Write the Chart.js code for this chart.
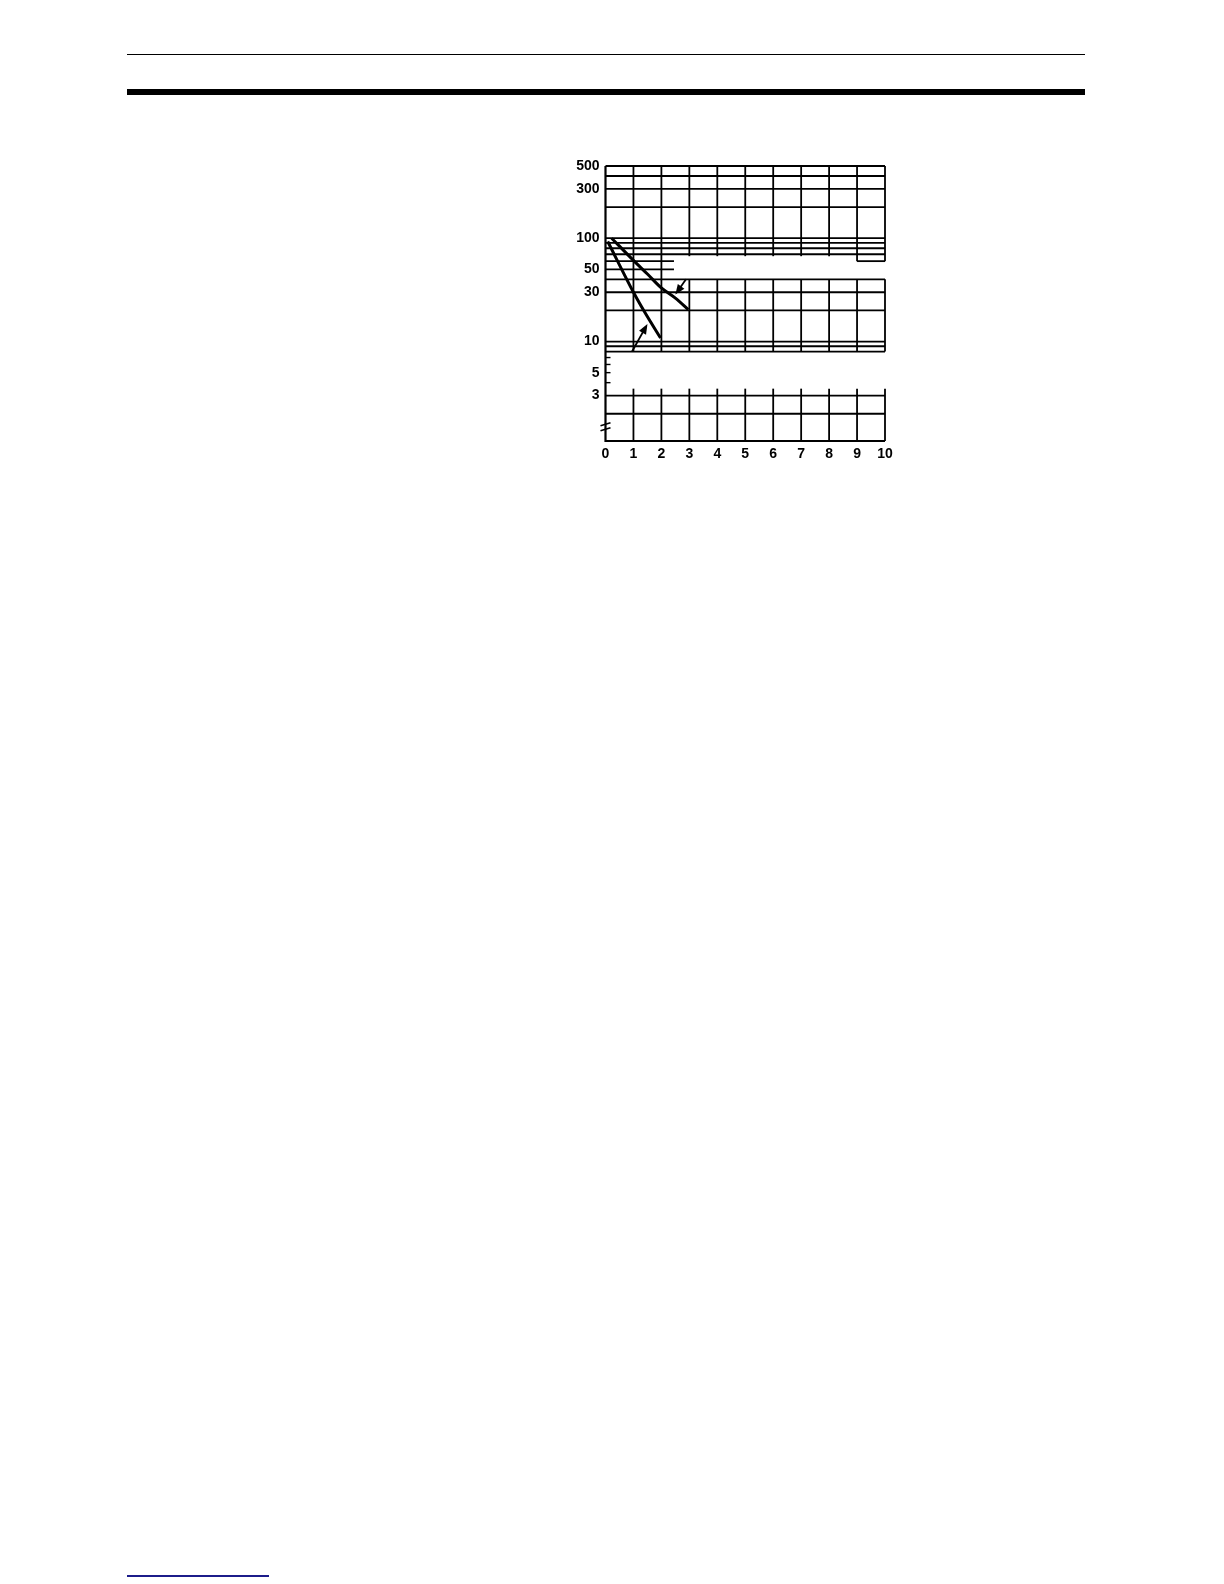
<!DOCTYPE html>
<html>
<head>
<meta charset="utf-8">
<script src="https://cdn.jsdelivr.net/npm/chart.js@4/dist/chart.umd.min.js"></script>
<style>
  body { margin: 0; width: 1224px; height: 1584px; background: #fff; position: relative; }
  .rule { position: absolute; left: 127px; width: 958px; background: #000; }
  #chartBox { position: absolute; left: 540px; top: 150px; width: 360px; height: 320px; }
  #footLine { position: absolute; left: 127px; top: 1575px; width: 142px; height: 2px; background: #1c1c8a; }
</style>
</head>
<body>
<div class="rule" style="top:54px;height:1px;"></div>
<div class="rule" style="top:89px;height:6px;"></div>
<div id="chartBox"><canvas id="lifeChart" width="360" height="320"></canvas></div>
<div id="footLine"></div>

<script>
// values (x, y on log axis)
var curveA_x = [0.22, 1, 1.5, 2, 2.5, 2.96];
var curveA_y = [100, 61, 45, 33, 26.3, 20.4];
var curveB_x = [0.08, 1, 1.4, 1.97];
var curveB_y = [93, 30, 19.3, 10.8];

var xTicks = [0, 1, 2, 3, 4, 5, 6, 7, 8, 9, 10];
var yTicks = [500, 300, 100, 50, 30, 10, 5, 3];
var yMinor = [7, 6, 5, 4];

// grid as drawn in the original (broken axis), in data units
// horizontal: [y, xFrom, xTo]
var hGrid = [
    [500, 0, 10], [400, 0, 10], [300, 0, 10], [200, 0, 10],
    [100, 0, 10], [90, 0, 10], [80, 0, 10], [70, 0, 10],
    [60, 0, 2.45], [50, 0, 2.45], [60, 9, 10],
    [40, 0, 10], [30, 0, 10], [20, 0, 10], [10, 0, 10], [9, 0, 10], [8, 0, 10],
    [3, 0, 10], [2, 0, 10]
];
// vertical: [x, yFrom, yTo]
var vGrid = [
    [1, 8, 500], [2, 8, 500],
    [3, 67, 500], [4, 67, 500], [5, 67, 500], [6, 67, 500], [7, 67, 500], [8, 67, 500],
    [9, 60, 500], [10, 60, 500],
    [3, 8, 40], [4, 8, 40], [5, 8, 40], [6, 8, 40], [7, 8, 40], [8, 8, 40], [9, 8, 40], [10, 8, 40],
    [1, 1.09, 3.5], [2, 1.09, 3.5], [3, 1.09, 3.5], [4, 1.09, 3.5], [5, 1.09, 3.5],
    [6, 1.09, 3.5], [7, 1.09, 3.5], [8, 1.09, 3.5], [9, 1.09, 3.5], [10, 1.09, 3.5]
];
// arrows pointing at the curves: [tailX, tailY, headX, headY]
var arrows = [
    [2.88, 40, 2.5, 28.5],
    [0.95, 8.0, 1.5, 14.8]
];

var yMin = 1.09, yMax = 500;

function pts(xs, ys) {
    return xs.map(function(x, i) { return { x: x, y: ys[i] }; });
}

var gridPlugin = {
    id: 'brokenGrid',
    beforeDatasetsDraw: function(chart) {
        var ctx = chart.ctx, xs = chart.scales.x, ys = chart.scales.y;
        ctx.save();
        ctx.strokeStyle = '#000';
        ctx.lineWidth = 1.8;
        ctx.lineCap = 'butt';
        hGrid.forEach(function(h) {
            var y = ys.getPixelForValue(h[0]);
            ctx.beginPath();
            ctx.moveTo(xs.getPixelForValue(h[1]), y);
            ctx.lineTo(xs.getPixelForValue(h[2]), y);
            ctx.stroke();
        });
        vGrid.forEach(function(v) {
            var x = xs.getPixelForValue(v[0]);
            ctx.beginPath();
            ctx.moveTo(x, ys.getPixelForValue(v[1]));
            ctx.lineTo(x, ys.getPixelForValue(v[2]));
            ctx.stroke();
        });
        // left and bottom axes
        ctx.lineWidth = 2.2;
        var x0 = xs.getPixelForValue(0), yb = ys.getPixelForValue(yMin);
        ctx.beginPath();
        ctx.moveTo(x0, ys.getPixelForValue(yMax));
        ctx.lineTo(x0, yb);
        ctx.lineTo(xs.getPixelForValue(10), yb);
        ctx.stroke();
        // minor ticks in the gap
        ctx.lineWidth = 1.4;
        yMinor.forEach(function(m) {
            var y = ys.getPixelForValue(m);
            ctx.beginPath();
            ctx.moveTo(x0, y);
            ctx.lineTo(x0 + 5, y);
            ctx.stroke();
        });
        // axis break mark
        var yb2 = ys.getPixelForValue(1.5);
        ctx.lineWidth = 1.6;
        [-2.5, 2.5].forEach(function(o) {
            ctx.beginPath();
            ctx.moveTo(x0 - 5, yb2 + o + 1.5);
            ctx.lineTo(x0 + 5, yb2 + o - 1.5);
            ctx.stroke();
        });
        ctx.restore();
    },
    afterDatasetsDraw: function(chart) {
        var ctx = chart.ctx, xs = chart.scales.x, ys = chart.scales.y;
        ctx.save();
        ctx.strokeStyle = '#000';
        ctx.fillStyle = '#000';
        ctx.lineWidth = 1.8;
        arrows.forEach(function(a) {
            var tx = xs.getPixelForValue(a[0]), ty = ys.getPixelForValue(a[1]);
            var hx = xs.getPixelForValue(a[2]), hy = ys.getPixelForValue(a[3]);
            var ang = Math.atan2(hy - ty, hx - tx);
            var c = Math.cos(ang), s = Math.sin(ang);
            ctx.beginPath();
            ctx.moveTo(tx, ty);
            ctx.lineTo(hx - 7 * c, hy - 7 * s);
            ctx.stroke();
            ctx.beginPath();
            ctx.moveTo(hx, hy);
            ctx.lineTo(hx - 10 * c + 4 * s, hy - 10 * s - 4 * c);
            ctx.lineTo(hx - 10 * c - 4 * s, hy - 10 * s + 4 * c);
            ctx.closePath();
            ctx.fill();
        });
        ctx.restore();
    }
};

var labelFont = { family: '"Liberation Sans", Arial, sans-serif', size: 14, weight: 'bold' };

var lifeChart = new Chart(document.getElementById('lifeChart'), {
    type: 'line',
    data: {
        datasets: [{
            data: pts(curveA_x, curveA_y),
            borderColor: '#000',
            borderWidth: 3,
            pointRadius: 0,
            cubicInterpolationMode: 'monotone'
        }, {
            data: pts(curveB_x, curveB_y),
            borderColor: '#000',
            borderWidth: 3,
            pointRadius: 0,
            cubicInterpolationMode: 'monotone'
        }]
    },
    options: {
        responsive: false,
        animation: false,
        layout: { padding: { top: 16, right: 15, left: 0, bottom: 0 } },
        plugins: { legend: { display: false }, tooltip: { enabled: false } },
        scales: {
            x: {
                type: 'linear',
                min: 0,
                max: 10,
                afterBuildTicks: function(scale) {
                    scale.ticks = xTicks.map(function(v) { return { value: v }; });
                },
                afterFit: function(scale) { scale.height = 29; },
                grid: { display: false, drawTicks: false },
                border: { display: false },
                ticks: { color: '#000', font: labelFont, padding: 5, maxRotation: 0, autoSkip: false }
            },
            y: {
                type: 'logarithmic',
                min: yMin,
                max: yMax,
                afterBuildTicks: function(scale) {
                    scale.ticks = yTicks.map(function(v) { return { value: v }; });
                },
                afterFit: function(scale) { scale.width = 65.5; },
                grid: { display: false, drawTicks: false },
                border: { display: false },
                ticks: {
                    color: '#000',
                    font: labelFont,
                    padding: 6,
                    autoSkip: false,
                    callback: function(v) { return String(v); }
                }
            }
        }
    },
    plugins: [gridPlugin]
});
</script>
</body>
</html>
